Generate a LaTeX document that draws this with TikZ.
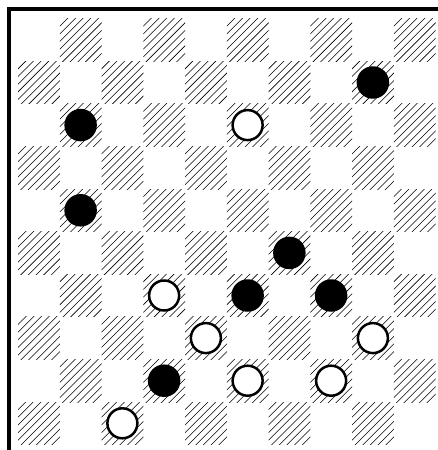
\documentclass[tikz,border=0pt]{standalone}
\begin{document}
\begin{tikzpicture}[x=1pt,y=-1pt,
  blackstone/.style={circle, fill=black, minimum size=32.5pt, inner sep=0pt},
  whitestone/.style={circle, draw=black, line width=2.5pt, fill=white, minimum size=30pt, inner sep=0pt},
  hatch/.style={line width=0.55pt, black},
  frame/.style={line width=4pt, line join=miter}]
\useasboundingbox (0,0) rectangle (438,450);
\def\cw{41.75}\def\ch{42.6}\def\xo{18}\def\yo{18.6}
\foreach \c in {0,...,9}{
  \foreach \r in {0,...,9}{
    \pgfmathtruncatemacro\odd{mod(\c+\r,2)}
    \ifnum\odd=1
      \begin{scope}[shift={({\xo+\c*\cw},{\yo+\r*\ch})}]
        \clip (0,0) rectangle (\cw,\ch);
        \foreach \j in {1,...,10}{
          \draw[hatch] ({\j*(\cw+\ch)/11-60},60) -- ({\j*(\cw+\ch)/11+60},-60);
        }
      \end{scope}
    \fi
  }
}
\draw[frame] (9,450) -- (9,9) -- (438,9);
\newcommand\stone[4]{\node[#1] (#2) at ({38.875+41.75*#3},{39.9+42.6*#4}) {};}
\stone{blackstone}{b1}{8}{1}
\stone{blackstone}{b2}{1}{2}
\stone{blackstone}{b3}{1}{4}
\stone{blackstone}{b4}{6}{5}
\stone{blackstone}{b5}{5}{6}
\stone{blackstone}{b6}{7}{6}
\stone{blackstone}{b7}{3}{8}
\stone{whitestone}{w1}{5}{2}
\stone{whitestone}{w2}{3}{6}
\stone{whitestone}{w3}{4}{7}
\stone{whitestone}{w4}{8}{7}
\stone{whitestone}{w5}{5}{8}
\stone{whitestone}{w6}{7}{8}
\stone{whitestone}{w7}{2}{9}
\end{tikzpicture}
\end{document}
